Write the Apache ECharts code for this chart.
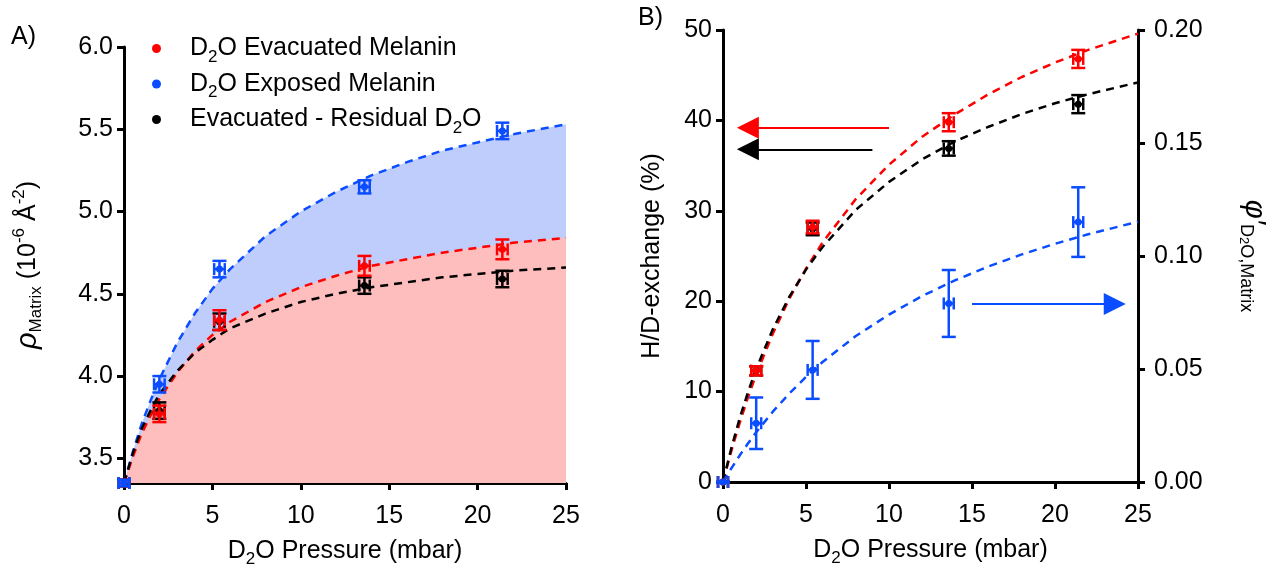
<!DOCTYPE html>
<html>
<head>
<meta charset="utf-8">
<script src="https://cdn.jsdelivr.net/npm/echarts@6/dist/echarts.min.js"></script>
<style>
  html, body { margin: 0; padding: 0; background: #fff; }
  #main { width: 1274px; height: 573px; }
</style>
</head>
<body>
<div id="main"></div>
<script>
// 拟合曲线的 x 取样点 (mbar)
var xCurve = [0, 0.5, 1, 1.5, 2, 3, 4, 5, 6, 8, 10, 12, 14, 16, 18, 20, 22, 25];

// A) 曲线
var aBlueFit  = [3.35, 3.54, 3.71, 3.85, 3.98, 4.20, 4.38, 4.53, 4.65, 4.85, 5.00, 5.12, 5.22, 5.30, 5.37, 5.42, 5.47, 5.53];
var aRedFit   = [3.35, 3.51, 3.65, 3.76, 3.86, 4.02, 4.15, 4.25, 4.33, 4.45, 4.54, 4.61, 4.67, 4.71, 4.75, 4.78, 4.81, 4.84];
var aBlackFit = [3.35, 3.53, 3.68, 3.79, 3.89, 4.03, 4.14, 4.22, 4.29, 4.38, 4.45, 4.50, 4.54, 4.57, 4.60, 4.62, 4.64, 4.66];

// 测量点的压力
var xPts = [0, 2.0, 5.4, 13.6, 21.4];
var xErr = [0.3, 0.3, 0.3, 0.3, 0.3];

// A) 数据点 + 误差
var aRed      = [3.35, 3.77, 4.34, 4.67, 4.77];
var aRedErr   = [0.02, 0.05, 0.06, 0.06, 0.06];
var aBlue     = [3.35, 3.95, 4.65, 5.15, 5.49];
var aBlueErr  = [0.02, 0.05, 0.05, 0.04, 0.05];
var aBlack    = [3.35, 3.79, 4.33, 4.55, 4.59];
var aBlackErr = [0.02, 0.05, 0.05, 0.05, 0.05];

// B) 曲线
var bRedFit   = [0, 3.42, 6.51, 9.33, 11.9, 16.4, 20.3, 23.6, 26.5, 31.3, 35.1, 38.2, 40.7, 42.9, 44.8, 46.4, 47.8, 49.6];
var bBlackFit = [0, 3.74, 7.02, 9.91, 12.5, 16.9, 20.5, 23.5, 26.0, 30.1, 33.2, 35.7, 37.7, 39.3, 40.7, 41.9, 42.9, 44.2];
var bBlueFit  = [0, 0.0060, 0.0117, 0.0170, 0.0220, 0.0311, 0.0392, 0.0465, 0.0531, 0.0646, 0.0741, 0.0823, 0.0893, 0.0954, 0.1007, 0.1054, 0.1096, 0.1152];

// B) 数据点 + 误差 (蓝色用右轴)
var bRed      = [0, 12.3, 28.2, 39.8, 46.8];
var bRedErr   = [0, 0.5, 0.7, 1.0, 1.0];
var bBlack    = [0, 12.3, 28.0, 36.9, 41.8];
var bBlackErr = [0, 0.5, 0.7, 0.8, 1.0];
var bBlue     = [0, 0.026, 0.0496, 0.079, 0.115];
var bBlueErr  = [0, 0.0114, 0.0128, 0.0148, 0.0154];

// 箭头 (左轴单位)
var arrowRed   = [[10.0, 39.2], [1.5, 39.2]];
var arrowBlack = [[9.0, 36.8], [1.5, 36.8]];
var arrowBlue  = [[15.0, 19.7], [23.6, 19.7]];

var yTicksA = [3.5, 4.0, 4.5, 5.0, 5.5, 6.0];

var RED = '#ff0000', BLUE = '#0a4cff', BLACK = '#000000';
var FONT = 'Liberation Sans, Arial, sans-serif';
var FS = 25;

function zip(xs, ys) {
  return xs.map(function (x, i) { return [x, ys[i]]; });
}
function zipErr(ys, es) {
  return xPts.map(function (x, i) { return [x, ys[i], es[i], xErr[i]]; });
}

// 误差棒 + 圆点
function errRender(color) {
  return function (params, api) {
    var x = api.value(0), y = api.value(1), ey = api.value(2), ex = api.value(3);
    var c = api.coord([x, y]);
    var top = api.coord([x, y + ey]);
    var bot = api.coord([x, y - ey]);
    var lft = api.coord([x - ex, y]);
    var rgt = api.coord([x + ex, y]);
    var cap = 7, xcap = 6;
    var st = { stroke: color, lineWidth: 2.5 };
    var kids = [
      { type: 'line', shape: { x1: c[0], y1: top[1], x2: c[0], y2: bot[1] }, style: st },
      { type: 'line', shape: { x1: c[0] - cap, y1: top[1], x2: c[0] + cap, y2: top[1] }, style: st },
      { type: 'line', shape: { x1: c[0] - cap, y1: bot[1], x2: c[0] + cap, y2: bot[1] }, style: st },
      { type: 'line', shape: { x1: lft[0], y1: c[1], x2: rgt[0], y2: c[1] }, style: st },
      { type: 'line', shape: { x1: lft[0], y1: c[1] - xcap, x2: lft[0], y2: c[1] + xcap }, style: st },
      { type: 'line', shape: { x1: rgt[0], y1: c[1] - xcap, x2: rgt[0], y2: c[1] + xcap }, style: st },
      { type: 'circle', shape: { cx: c[0], cy: c[1], r: 3.5 }, style: { fill: color } }
    ];
    return { type: 'group', children: kids };
  };
}

var axisCommon = {
  axisLine: { onZero: false, lineStyle: { color: '#000', width: 3 } },
  axisTick: { length: 7, lineStyle: { color: '#000', width: 3 } },
  axisLabel: { color: '#000', fontSize: FS, fontFamily: FONT, margin: 11 },
  splitLine: { show: false }
};
function ax(o) {
  return Object.assign({}, JSON.parse(JSON.stringify(axisCommon)), o);
}

var richBase = {
  n: { fontSize: FS, fontFamily: FONT, color: '#000', lineHeight: 34, verticalAlign: 'middle' },
  s: { fontSize: 17, fontFamily: FONT, color: '#000', lineHeight: 19, verticalAlign: 'bottom' },
  p: { fontSize: 17, fontFamily: FONT, color: '#000', lineHeight: 19, verticalAlign: 'top' }
};

var xName = '{n|D}{s|2}{n|O Pressure (mbar)}';

var legendText = {
  'D2O Evacuated Melanin': '{n|D}{s|2}{n|O Evacuated Melanin}',
  'D2O Exposed Melanin': '{n|D}{s|2}{n|O Exposed Melanin}',
  'Evacuated - Residual D2O': '{n|Evacuated - Residual D}{s|2}{n|O}'
};

function lineS(name, data, color, xi, yi, z) {
  return {
    name: name, type: 'line', xAxisIndex: xi, yAxisIndex: yi,
    data: data, showSymbol: false, smooth: false,
    lineStyle: { color: color, width: 2.5, type: [8, 6] },
    z: z, silent: true
  };
}
function areaS(data, color, z) {
  return {
    type: 'line', xAxisIndex: 0, yAxisIndex: 0, data: data,
    showSymbol: false, smooth: false,
    lineStyle: { width: 0 }, areaStyle: { color: color, opacity: 1 },
    z: z, silent: true
  };
}
function errS(name, data, color, xi, yi, z) {
  return {
    name: name, type: 'custom', xAxisIndex: xi, yAxisIndex: yi,
    renderItem: errRender(color), data: data,
    itemStyle: { color: color }, encode: { x: 0, y: 1 }, z: z, clip: false
  };
}
function arrowS(coords, color) {
  return {
    type: 'lines', coordinateSystem: 'cartesian2d', xAxisIndex: 1, yAxisIndex: 1,
    symbol: ['none', 'triangle'], symbolSize: [14, 22],
    lineStyle: { color: color, width: 2, opacity: 1, curveness: 0 },
    data: [{ coords: coords }], z: 5, silent: true
  };
}

var myChart = echarts.init(document.getElementById('main'));

var option = {
  animation: false,
  grid: [
    { left: 124, top: 47, width: 442, height: 436 },
    { left: 723, top: 30, width: 415, height: 452 }
  ],
  legend: {
    data: ['D2O Evacuated Melanin', 'D2O Exposed Melanin', 'Evacuated - Residual D2O'],
    orient: 'vertical', left: 147, top: 31, itemGap: 6,
    icon: 'circle', itemWidth: 9, itemHeight: 9,
    formatter: function (name) { return legendText[name]; },
    textStyle: { padding: [0, 0, 0, 24], rich: richBase }
  },
  xAxis: [
    ax({ gridIndex: 0, type: 'value', min: 0, max: 25, interval: 5,
      axisLabel: { color: '#000', fontSize: FS, fontFamily: FONT, margin: 21 },
      name: xName, nameLocation: 'middle', nameGap: 51, nameTextStyle: { rich: richBase } }),
    ax({ gridIndex: 1, type: 'value', min: 0, max: 25, interval: 5,
      axisLabel: { color: '#000', fontSize: FS, fontFamily: FONT, margin: 21 },
      name: xName, nameLocation: 'middle', nameGap: 51, nameTextStyle: { rich: richBase } })
  ],
  yAxis: [
    ax({ gridIndex: 0, type: 'value', min: 3.35, max: 6.0,
      name: '{r|ρ}{s|Matrix}{n| (10}{p|-6}{n| Å}{p|-2}{n|)}',
      nameLocation: 'middle', nameRotate: 90, nameGap: 79,
      nameTextStyle: { rich: Object.assign({
        r: { fontSize: 29, fontFamily: FONT, fontStyle: 'italic', color: '#000', lineHeight: 34, verticalAlign: 'middle' }
      }, richBase) },
      axisTick: { length: 7, lineStyle: { color: '#000', width: 3 }, customValues: yTicksA },
      axisLabel: { color: '#000', fontSize: FS, fontFamily: FONT, margin: 11, customValues: yTicksA,
        formatter: function (v) { return v.toFixed(1); } }
    }),
    ax({ gridIndex: 1, type: 'value', min: 0, max: 50, interval: 10,
      name: 'H/D-exchange (%)', nameLocation: 'middle', nameRotate: 90, nameGap: 58,
      nameTextStyle: { fontSize: FS, fontFamily: FONT, color: '#000' } }),
    ax({ gridIndex: 1, type: 'value', position: 'right', min: 0, max: 0.2, interval: 0.05,
      name: '{f|φ′}{s|D}{t|2}{s|O,Matrix}', nameLocation: 'middle', nameRotate: -90, nameGap: 99,
      nameTextStyle: { rich: {
        f: { fontSize: 29, fontFamily: FONT, fontStyle: 'italic', color: '#000', lineHeight: 34, verticalAlign: 'middle' },
        s: { fontSize: 18, fontFamily: FONT, color: '#000', lineHeight: 20, verticalAlign: 'bottom' },
        t: { fontSize: 13, fontFamily: FONT, color: '#000', lineHeight: 14, verticalAlign: 'bottom' }
      } },
      axisLabel: { color: '#000', fontSize: FS, fontFamily: FONT, margin: 16,
        formatter: function (v) { return v.toFixed(2); } }
    })
  ],
  graphic: [
    { type: 'text', x: 11, y: 25, style: { text: 'A)', fontSize: FS, fontFamily: FONT, fill: '#000' } },
    { type: 'text', x: 638, y: 6, style: { text: 'B)', fontSize: FS, fontFamily: FONT, fill: '#000' } },
    { type: 'text', x: 446, y: 188, style: { text: 'Matrix', fontSize: FS, fontFamily: FONT, fill: '#1f55ff', align: 'center', verticalAlign: 'middle' } },
    { type: 'text', x: 446, y: 218, style: {
      text: '{a|D}{b|2}{a|O}', align: 'center', verticalAlign: 'middle',
      rich: {
        a: { fontSize: FS, fontFamily: FONT, fill: '#1f55ff', lineHeight: 34, verticalAlign: 'middle' },
        b: { fontSize: 17, fontFamily: FONT, fill: '#1f55ff', lineHeight: 19, verticalAlign: 'bottom' }
      } } },
    { type: 'text', x: 387, y: 380, style: { text: 'Matrix', fontSize: FS, fontFamily: FONT, fill: '#ff1111', align: 'center', verticalAlign: 'middle' } },
    { type: 'text', x: 387, y: 410, style: { text: 'H/D-exchange', fontSize: FS, fontFamily: FONT, fill: '#ff1111', align: 'center', verticalAlign: 'middle' } }
  ],
  series: [
    // A) 填充区域
    areaS(zip(xCurve, aBlueFit), '#bfcdfd', 1),
    areaS(zip(xCurve, aRedFit), '#ffbebe', 2),
    // A) 拟合虚线
    lineS('fitA-blue', zip(xCurve, aBlueFit), BLUE, 0, 0, 3),
    lineS('fitA-red', zip(xCurve, aRedFit), RED, 0, 0, 3),
    lineS('fitA-black', zip(xCurve, aBlackFit), BLACK, 0, 0, 3),
    // A) 数据点
    errS('Evacuated - Residual D2O', zipErr(aBlack, aBlackErr), BLACK, 0, 0, 4),
    errS('D2O Evacuated Melanin', zipErr(aRed, aRedErr), RED, 0, 0, 5),
    errS('D2O Exposed Melanin', zipErr(aBlue, aBlueErr), BLUE, 0, 0, 6),
    // B) 拟合虚线
    lineS('fitB-red', zip(xCurve, bRedFit), RED, 1, 1, 3),
    lineS('fitB-black', zip(xCurve, bBlackFit), BLACK, 1, 1, 3),
    lineS('fitB-blue', zip(xCurve, bBlueFit), BLUE, 1, 2, 3),
    // B) 数据点
    errS('B-black', zipErr(bBlack, bBlackErr), BLACK, 1, 1, 4),
    errS('B-red', zipErr(bRed, bRedErr), RED, 1, 1, 5),
    errS('B-blue', zipErr(bBlue, bBlueErr), BLUE, 1, 2, 6),
    // B) 箭头
    arrowS(arrowRed, RED),
    arrowS(arrowBlack, BLACK),
    arrowS(arrowBlue, BLUE)
  ]
};

myChart.setOption(option);

window.addEventListener('resize', function () {
  myChart.resize();
});
</script>
</body>
</html>
